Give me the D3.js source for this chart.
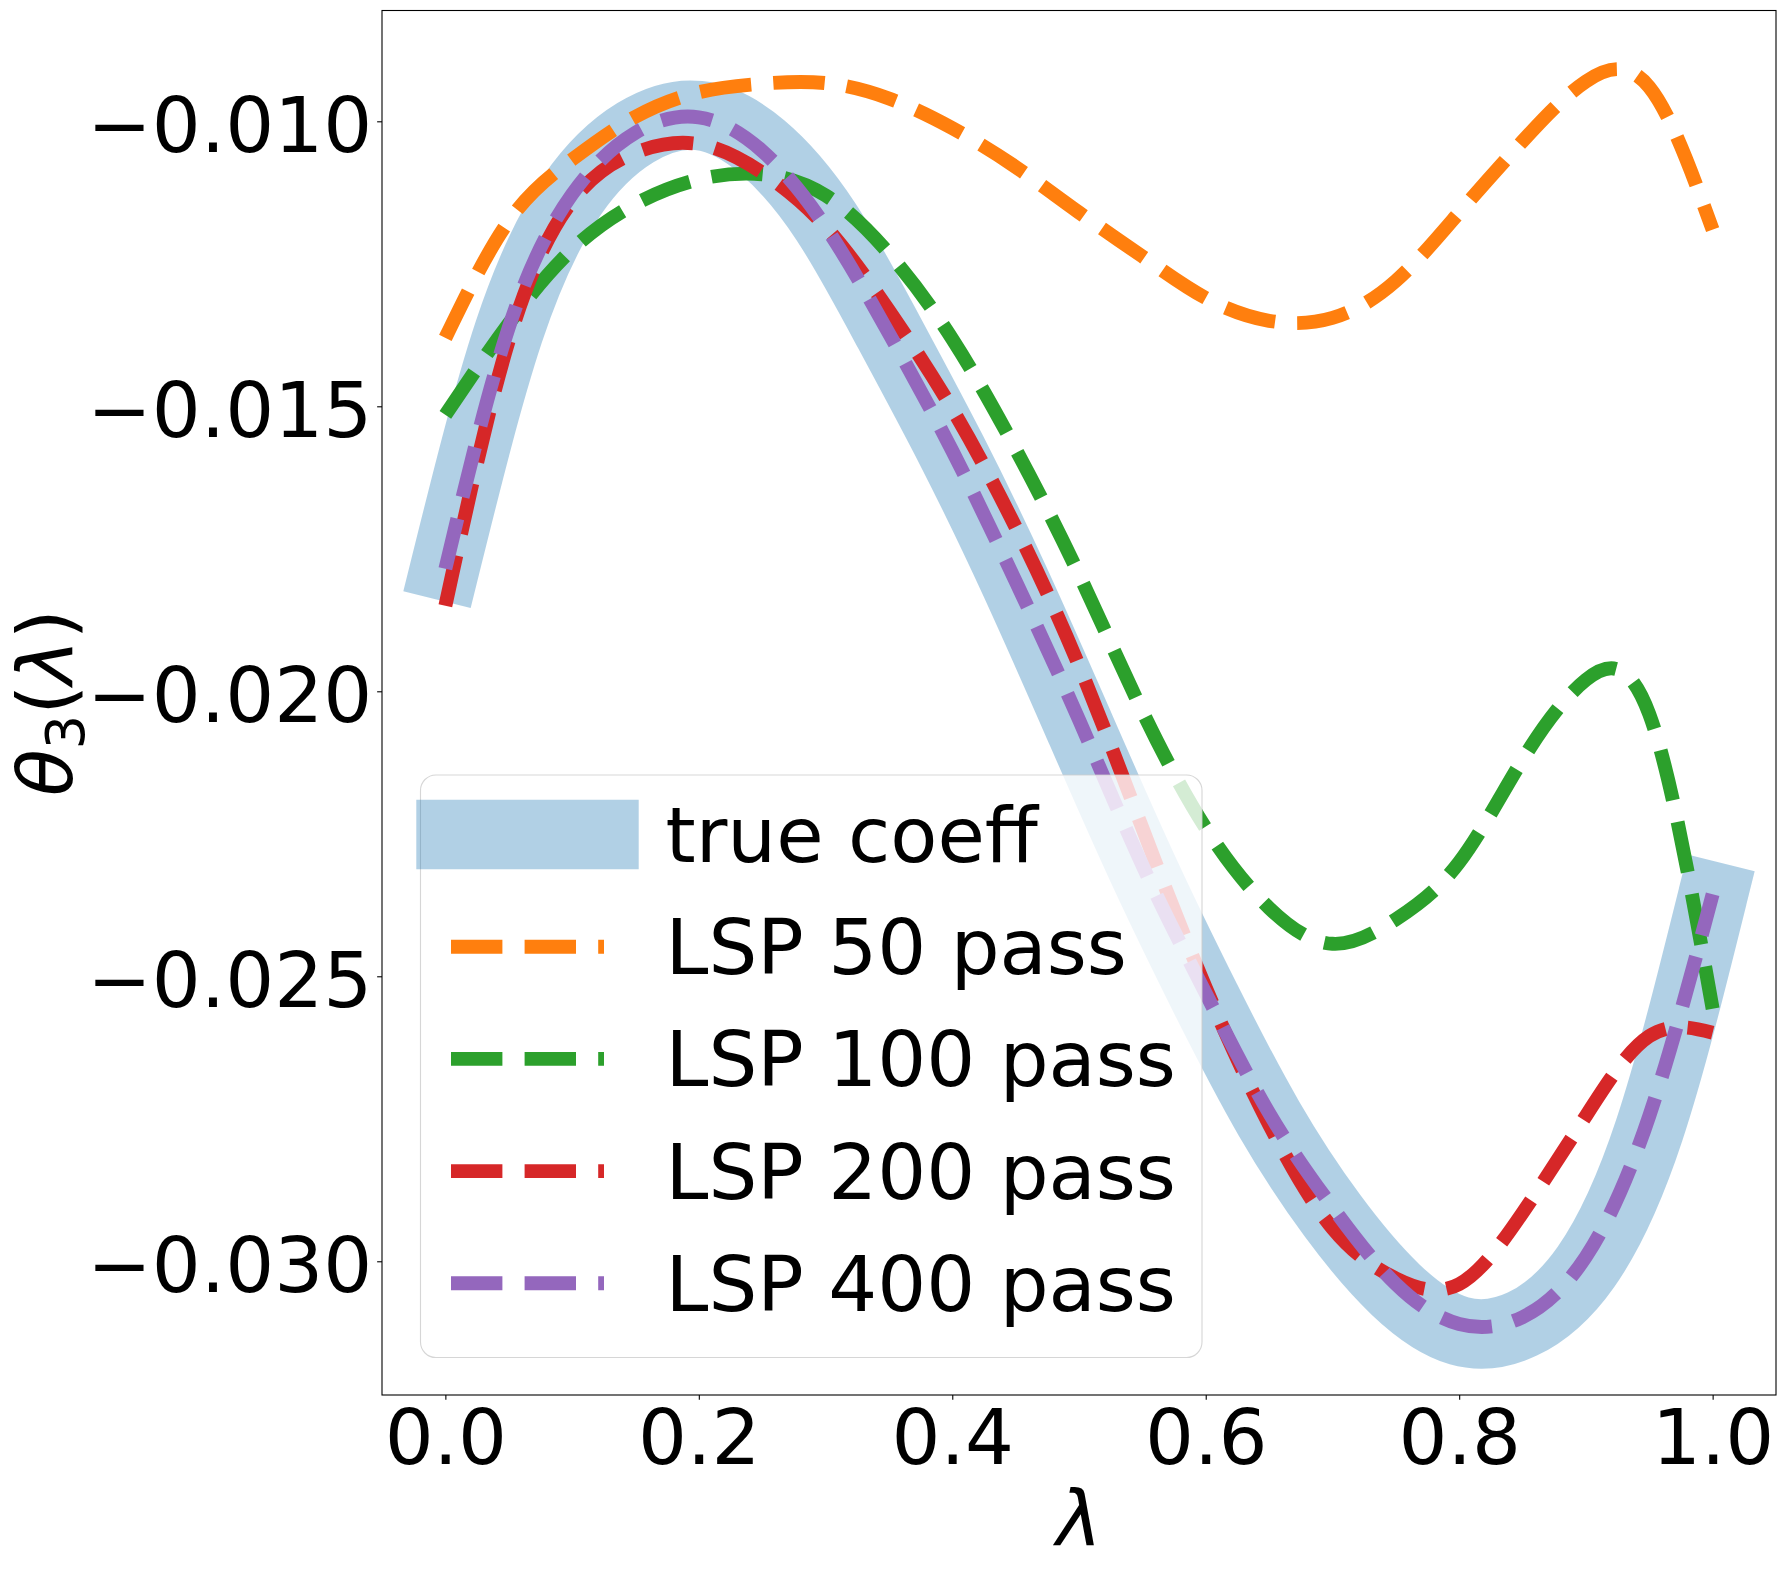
<!DOCTYPE html>
<html><head><meta charset="utf-8">
<script src="https://cdn.jsdelivr.net/npm/d3@7"></script>
<style>body{margin:0;background:#fff} svg{display:block}</style>
</head><body><svg id="chart" width="1787" height="1569"></svg>
<script>
// ---- data ----
const lambdaGrid = [0, 0.05, 0.1, 0.15, 0.2, 0.25, 0.3, 0.35, 0.4, 0.45, 0.5, 0.55, 0.6, 0.65, 0.7, 0.75, 0.8, 0.85, 0.9, 0.95, 1.0];
const trueCoeff = [-0.0178, -0.0137, -0.0113, -0.0102, -0.0099, -0.01045, -0.01175, -0.0137, -0.0158, -0.0181, -0.0206, -0.0231, -0.0254, -0.0275, -0.0292, -0.0305, -0.03122, -0.0311, -0.0301, -0.0277, -0.0236];
const lsp50 = [-0.0138, -0.01175, -0.01067, -0.00992, -0.00949, -0.00934, -0.00933, -0.0096, -0.01012, -0.0108, -0.0116, -0.01237, -0.0131, -0.0135, -0.01345, -0.0128, -0.0116, -0.01035, -0.0093, -0.0094, -0.0119];
const lsp100 = [-0.01515, -0.01355, -0.01225, -0.01145, -0.01102, -0.01093, -0.0113, -0.01232, -0.01382, -0.01575, -0.01795, -0.02035, -0.0224, -0.0238, -0.02443, -0.024, -0.023, -0.0212, -0.0198, -0.0204, -0.02557];
const lsp200 = [-0.0185, -0.01385, -0.0114, -0.01055, -0.0104, -0.0109, -0.01185, -0.01332, -0.01505, -0.01712, -0.01955, -0.0224, -0.0252, -0.0276, -0.02942, -0.0303, -0.0304, -0.02915, -0.02745, -0.02605, -0.02599];
const lsp400 = [-0.01785, -0.01362, -0.01128, -0.0102, -0.00993, -0.01052, -0.01185, -0.01372, -0.01578, -0.01807, -0.0205, -0.02305, -0.0253, -0.0274, -0.02905, -0.0304, -0.0311, -0.03098, -0.02992, -0.02745, -0.02356];
const seriesNames = ["true coeff", "LSP 50 pass", "LSP 100 pass", "LSP 200 pass", "LSP 400 pass"];
const xTickValues = [0, 0.2, 0.4, 0.6, 0.8, 1.0];
const xTickLabels = ["0.0", "0.2", "0.4", "0.6", "0.8", "1.0"];
const yTickValues = [-0.030, -0.025, -0.020, -0.015, -0.010];
const yTickLabels = ["\u22120.030", "\u22120.025", "\u22120.020", "\u22120.015", "\u22120.010"];

// ---- layout ----
const FONT = "'DejaVu Sans', sans-serif";
const FS = 77;
const plot = {left: 382, right: 1776, top: 10.5, bottom: 1395};
const svg = d3.select("#chart");
svg.append("rect").attr("width", 1787).attr("height", 1569).attr("fill", "#fff");

const x = d3.scaleLinear().domain([-0.05, 1.05]).range([plot.left, plot.right]);
const y = d3.scaleLinear().domain([-0.032346, -0.008056]).range([plot.bottom, plot.top]);

svg.append("defs").append("clipPath").attr("id", "clip")
  .append("rect").attr("x", plot.left).attr("y", plot.top)
  .attr("width", plot.right - plot.left).attr("height", plot.bottom - plot.top);

const styles = [
  {color: "#1f77b4", opacity: 0.35, width: 69.4, dash: null, cap: "square"},
  {color: "#ff7f0e", opacity: 1, width: 13.9, dash: "51.4,22.2", cap: "butt"},
  {color: "#2ca02c", opacity: 1, width: 13.9, dash: "51.4,22.2", cap: "butt"},
  {color: "#d62728", opacity: 1, width: 13.9, dash: "51.4,22.2", cap: "butt"},
  {color: "#9467bd", opacity: 1, width: 13.9, dash: "51.4,22.2", cap: "butt"}
];
const seriesValues = [trueCoeff, lsp50, lsp100, lsp200, lsp400];

const line = d3.line()
  .x((d, i) => x(lambdaGrid[i]))
  .y(d => y(d))
  .curve(d3.curveNatural);

const gLines = svg.append("g").attr("clip-path", "url(#clip)");
seriesValues.forEach((vals, k) => {
  const s = styles[k];
  gLines.append("path").attr("d", line(vals))
    .attr("fill", "none").attr("stroke", s.color)
    .attr("stroke-opacity", s.opacity).attr("stroke-width", s.width)
    .attr("stroke-dasharray", s.dash).attr("stroke-linecap", s.cap)
    .attr("stroke-linejoin", "round");
});

// axes
const TICK = 4.86;
const xAxis = d3.axisBottom(x).tickValues(xTickValues).tickFormat((d, i) => xTickLabels[i])
  .tickSize(TICK).tickSizeOuter(0);
const gx = svg.append("g").attr("transform", `translate(0,${plot.bottom})`).call(xAxis);
gx.select(".domain").remove();
gx.selectAll(".tick line").attr("stroke", "#000").attr("stroke-width", 1.1);
gx.selectAll(".tick text").attr("y", 69).attr("dy", null)
  .attr("font-family", FONT).attr("font-size", FS).attr("fill", "#000");

const yAxis = d3.axisLeft(y).tickValues(yTickValues).tickFormat((d, i) => yTickLabels[i])
  .tickSize(TICK).tickSizeOuter(0);
const gy = svg.append("g").attr("transform", `translate(${plot.left},0)`).call(yAxis);
gy.select(".domain").remove();
gy.selectAll(".tick line").attr("stroke", "#000").attr("stroke-width", 1.1);
gy.selectAll(".tick text").attr("x", -9.72).attr("y", 30).attr("dy", null)
  .attr("font-family", FONT).attr("font-size", FS).attr("fill", "#000");

// spines
svg.append("rect").attr("x", plot.left).attr("y", plot.top)
  .attr("width", plot.right - plot.left).attr("height", plot.bottom - plot.top)
  .attr("fill", "none").attr("stroke", "#000").attr("stroke-width", 1.1);

// axis labels
svg.append("text").attr("x", (plot.left + plot.right) / 2).attr("y", 1545)
  .attr("text-anchor", "middle").attr("font-family", FONT).attr("font-size", FS)
  .attr("font-style", "italic").text("\u03bb");

const yl = svg.append("text").attr("transform", `translate(72,${(plot.top + plot.bottom) / 2}) rotate(-90)`)
  .attr("text-anchor", "middle").attr("font-family", FONT).attr("font-size", FS);
yl.append("tspan").attr("font-style", "italic").text("\u03b8");
yl.append("tspan").attr("font-size", 54).attr("dy", 12).text("3");
yl.append("tspan").attr("dy", -12).text("(");
yl.append("tspan").attr("font-style", "italic").text("\u03bb");
yl.append("tspan").text(")");

// legend
const leg = svg.append("g");
leg.append("rect").attr("x", 420.5).attr("y", 775).attr("width", 781.5).attr("height", 582.5)
  .attr("rx", 15.4).attr("ry", 15.4)
  .attr("fill", "#fff").attr("fill-opacity", 0.8)
  .attr("stroke", "#cccccc").attr("stroke-opacity", 0.8).attr("stroke-width", 1.1);
seriesNames.forEach((name, k) => {
  const base = 862 + k * 112.2;
  const s = styles[k];
  leg.append("line").attr("x1", 451).attr("x2", 604)
    .attr("y1", base - 27.5).attr("y2", base - 27.5)
    .attr("stroke", s.color).attr("stroke-opacity", s.opacity)
    .attr("stroke-width", s.width).attr("stroke-dasharray", s.dash)
    .attr("stroke-linecap", s.cap);
  leg.append("text").attr("x", 665.5).attr("y", base)
    .attr("font-family", FONT).attr("font-size", FS).attr("fill", "#000").text(name);
});
</script></body></html>
